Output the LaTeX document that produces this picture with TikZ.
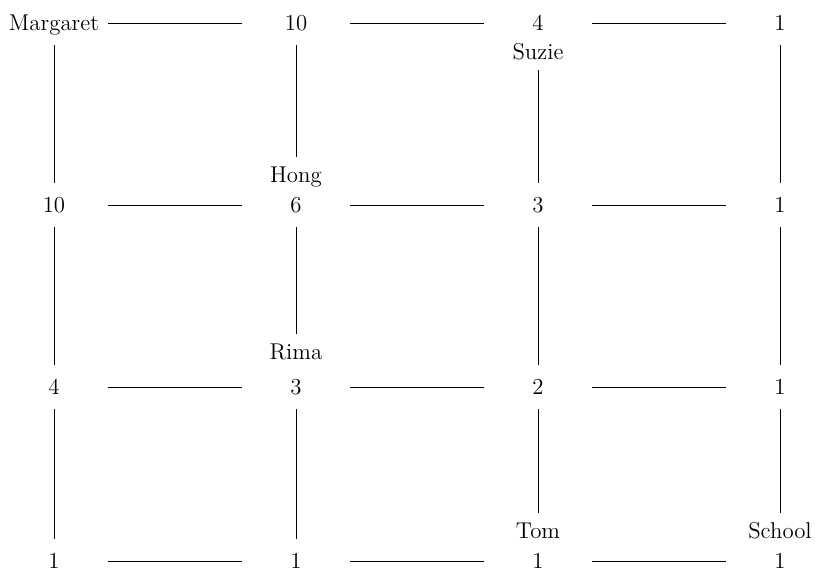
\documentclass[tikz,border=0pt]{standalone}
\usepackage{tikz}
\begin{document}
\begin{tikzpicture}[
  x=0.02cm, y=-0.02cm,
  corner/.style={minimum width=2.16cm, minimum height=0.88cm, inner sep=0pt,
                 text height=0.31cm, text depth=0pt, font=\fontsize{13}{15}\selectfont},
  walker/.style={inner xsep=0pt, inner ysep=0.2cm, text height=0.31cm,
                 text depth=0pt, font=\fontsize{13}{15}\selectfont},
  street/.style={line width=0.55pt},
]
  \useasboundingbox (0,0) rectangle (815,571);

  % Counts at each corner
  \node[corner] (r0c0) at (54,23) {Margaret};
  \node[corner] (r0c1) at (296,23) {10};
  \node[corner] (r0c2) at (538,23) {4};
  \node[corner] (r0c3) at (780,23) {1};

  \node[corner] (r1c0) at (54,205) {10};
  \node[corner] (r1c1) at (296,205) {6};
  \node[corner] (r1c2) at (538,205) {3};
  \node[corner] (r1c3) at (780,205) {1};

  \node[corner] (r2c0) at (54,387) {4};
  \node[corner] (r2c1) at (296,387) {3};
  \node[corner] (r2c2) at (538,387) {2};
  \node[corner] (r2c3) at (780,387) {1};

  \node[corner] (r3c0) at (54,561) {1};
  \node[corner] (r3c1) at (296,561) {1};
  \node[corner] (r3c2) at (538,561) {1};
  \node[corner] (r3c3) at (780,561) {1};

  % Names next to their corners
  \node[walker] (suzie) at (538,52) {Suzie};
  \node[walker] (hong) at (296,175) {Hong};
  \node[walker] (rima) at (296,352) {Rima};
  \node[walker] (tom) at (538,531) {Tom};
  \node[walker] (school) at (780,531) {School};

  % Streets across
  \foreach \r in {0,...,3} {
    \draw[street] (r\r c0) -- (r\r c1);
    \draw[street] (r\r c1) -- (r\r c2);
    \draw[street] (r\r c2) -- (r\r c3);
  }

  % Streets down
  \foreach \a/\b in {r0c0/r1c0, r0c1/hong, suzie/r1c2, r0c3/r1c3,
                     r1c0/r2c0, r1c1/rima, r1c2/r2c2, r1c3/r2c3,
                     r2c0/r3c0, r2c1/r3c1, r2c2/tom, r2c3/school} {
    \draw[street] (\a) -- (\b);
  }
\end{tikzpicture}
\end{document}
